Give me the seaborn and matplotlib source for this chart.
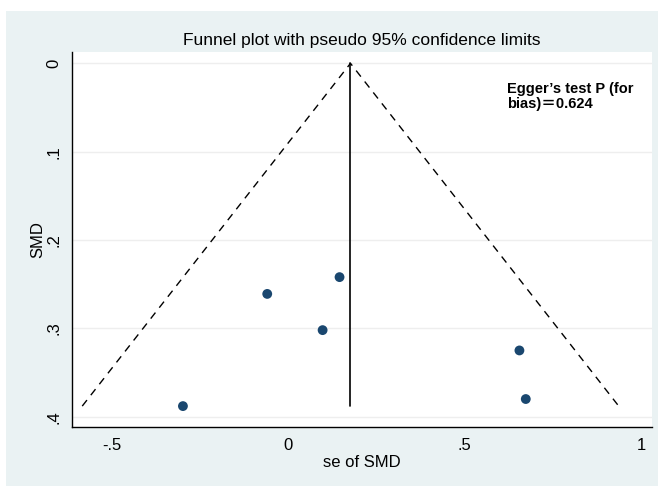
import numpy as np
import pandas as pd
import matplotlib
matplotlib.use('Agg')
import matplotlib.pyplot as plt
import seaborn as sns
from matplotlib.patches import Rectangle

sns.set_theme(style='white')
plt.rcParams['font.family'] = ['Liberation Sans', 'Noto Sans CJK SC', 'DejaVu Sans']
plt.rcParams['text.color'] = 'black'
plt.rcParams['axes.labelcolor'] = 'black'
plt.rcParams['xtick.color'] = 'black'
plt.rcParams['ytick.color'] = 'black'

# study estimates (x) and their standard errors (y)
smd = [-0.299, -0.060, 0.145, 0.097, 0.655, 0.673]
se_smd = [0.388, 0.261, 0.242, 0.302, 0.325, 0.380]
pooled = 0.176
se_max = 0.388
xticks = [-0.5, 0, 0.5, 1]
xtick_labels = ['-.5', '0', '.5', '1']
yticks = [0, 0.1, 0.2, 0.3, 0.4]
ytick_labels = ['0', '.1', '.2', '.3', '.4']

df = pd.DataFrame({'smd': smd, 'se': se_smd})

fig = plt.figure(figsize=(6.58, 4.86), dpi=100)
fig.patch.set_facecolor('white')
# stata-like graph region
fig.patches.append(Rectangle((6 / 658, 0), 1, (486 - 11) / 486, transform=fig.transFigure,
                             facecolor='#eaf2f3', edgecolor='none', zorder=-10))
ax = fig.add_axes([72 / 658, (486 - 427.3) / 486, (651.7 - 72) / 658, (427.3 - 52.3) / 486])
ax.set_facecolor('white')

# pseudo 95% limits
lo = pooled - 1.96 * se_max
hi = pooled + 1.96 * se_max
ax.plot([lo, pooled, hi], [se_max, 0, se_max], color='black', lw=1.0, ls=(0, (5.5, 4.5)))
ax.plot([pooled, pooled], [0, se_max], color='black', lw=1.2)

sns.scatterplot(data=df, x='smd', y='se', ax=ax, s=50, color='#1a476f', edgecolor='none', zorder=3)

ax.set_xlim(-0.6135, 1.030)
ax.set_ylim(0.412, -0.0125)
ax.set_xticks(xticks)
ax.set_xticklabels(xtick_labels, fontsize=12)
ax.set_yticks(yticks)
ax.set_yticklabels(ytick_labels, fontsize=12, rotation=90, va='center')
for y in yticks:
    ax.axhline(y, color='#eeeeee', lw=1.0, zorder=0)

for s in ['top', 'right']:
    ax.spines[s].set_visible(False)
for s in ['left', 'bottom']:
    ax.spines[s].set_color('black')
    ax.spines[s].set_linewidth(1.0)
ax.tick_params(axis='both', direction='out', length=5, width=1, color='black', pad=2.5)

ax.set_xlabel('se of SMD', fontsize=12, labelpad=2)
ax.set_ylabel('SMD', fontsize=12, labelpad=1)

fig.text(0.55, (486 - 41) / 486, 'Funnel plot with pseudo 95% confidence limits',
         ha='center', va='center', fontsize=12.5)
fig.text(507 / 658, (486 - 96.5) / 486, 'Egger\u2019s test P (for\nbias)\uff1d0.624',
         fontsize=10.5, fontweight='bold', ha='left', va='center', linespacing=1.1)

fig.savefig('out.png', dpi=100, facecolor=fig.get_facecolor())
